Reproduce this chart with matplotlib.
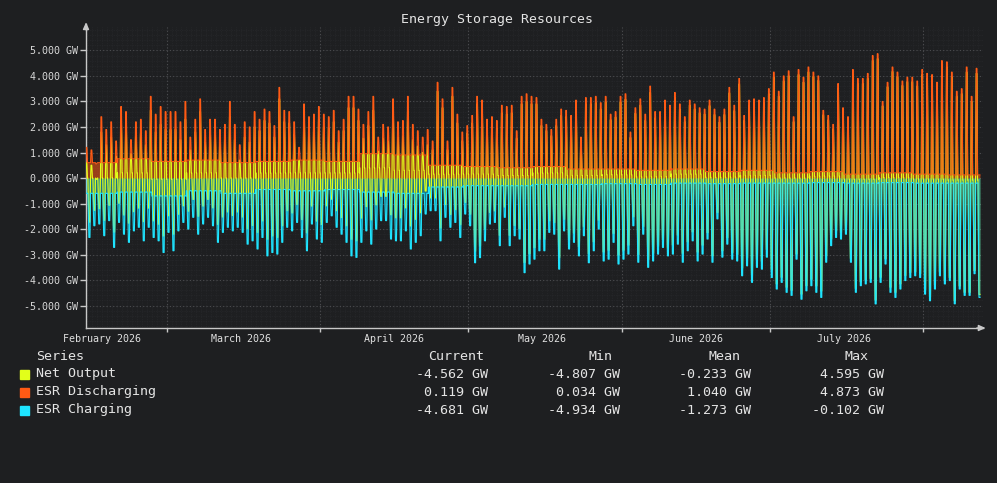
import numpy as np
import matplotlib
matplotlib.use('Agg')
import matplotlib.pyplot as plt
from matplotlib.patches import Rectangle

# --- data ------------------------------------------------------------------
start = np.datetime64('2026-02-12')

# evening discharge peak of each day (GW), Feb 12 .. Aug 11
peak_discharge = [
    1.2, 1.1, 0.55, 2.4, 1.9, 2.2, 1.45, 2.8, 2.6, 1.5, 2.2, 2.3, 1.85, 3.2, 2.5, 2.8, 2.6, 2.6, 2.6,
    2.2, 3.0, 1.6, 2.3, 3.1, 1.9, 2.3, 2.3, 1.9, 2.1, 3.0, 2.1, 1.3, 2.2, 2.0, 2.6, 2.3, 2.7,
    2.6, 2.05, 3.55, 2.65, 2.6, 2.2, 1.2, 2.9, 2.4, 2.5, 2.8, 2.5, 2.4, 2.65, 1.85, 2.3, 3.2, 3.2,
    2.7, 2.1, 2.6, 3.2, 1.6, 2.1, 2.0, 3.1, 2.2, 2.25, 3.2, 2.1, 1.85, 1.6, 1.9, 1.45, 3.75, 3.1,
    1.45, 3.55, 2.5, 1.8, 2.05, 2.45, 3.2, 3.05, 2.3, 2.4, 2.25, 2.85, 2.8, 2.85, 1.85, 3.2, 3.3,
    3.2, 3.15, 2.3, 2.1, 1.9, 2.3, 2.7, 2.65, 2.45, 3.05, 1.6, 3.15, 3.15, 3.2, 2.95, 3.2, 2.5, 2.6, 3.2,
    3.3, 1.8, 2.75, 3.1, 2.5, 3.6, 2.6, 2.6, 3.05, 2.85, 3.35, 2.9, 2.4, 3.05, 2.9, 2.75, 2.7, 3.05,
    2.7, 2.4, 2.7, 3.55, 2.85, 3.9, 2.45, 3.05, 3.1, 3.05, 3.15, 3.5, 4.15, 3.4, 4.0, 4.2, 2.4, 4.25, 3.95,
    4.35, 4.15, 4.0, 2.65, 2.45, 2.1, 3.7, 2.75, 2.4, 4.25, 3.9, 3.9, 4.1, 4.8, 4.873, 3.0, 3.75, 4.35,
    4.15, 3.8, 3.95, 3.95, 3.8, 4.25, 4.1, 4.05, 3.75, 4.6, 4.55, 4.15, 3.4, 3.5, 4.35, 3.2, 4.3,
]

# midday charging trough of each day (GW), Feb 13 .. Aug 12
trough_charging = [
    -2.33, -1.87, -1.8, -2.26, -1.67, -2.72, -1.74, -2.2, -2.52, -2.07, -1.93, -2.46, -1.93, -2.33,
    -2.46, -2.92, -2.13, -2.85, -2.07, -1.74, -2.0, -1.54, -2.2, -1.8, -1.54, -1.87, -2.52, -2.13,
    -1.93, -2.07, -1.93, -2.13, -2.59, -2.46, -2.78, -2.33,
    -3.05, -2.92, -2.98, -2.52, -1.93, -2.07, -1.74, -2.33, -2.85, -1.8, -2.39, -2.52, -1.74, -1.48,
    -1.93, -2.2, -2.52, -3.05, -3.11, -2.52, -2.07, -2.59, -2.0, -1.67, -1.67, -2.39, -2.46, -2.46,
    -2.07, -2.78, -2.52, -2.26, -1.41, -1.28, -1.28, -2.46, -1.54,
    -1.93, -1.74, -2.33, -1.41, -1.87, -3.32, -3.12, -2.46, -1.8, -1.74, -2.65, -1.54, -2.65, -2.26,
    -2.39, -3.71, -3.37, -3.18, -2.85, -2.85, -2.13, -2.2, -3.57, -2.07, -2.78, -2.52, -3.05, -2.26,
    -3.32, -2.85, -2.0, -3.25, -3.18, -2.52, -3.37, -3.18,
    -2.98, -1.87, -3.3, -2.2, -3.5, -3.25, -2.98, -2.72, -3.05, -2.98, -2.59, -3.3, -2.85, -2.46,
    -3.25, -2.98, -2.39, -3.3, -1.6, -3.1, -2.59, -3.18, -3.25, -3.83, -3.44, -4.09, -3.5, -3.57,
    -3.1, -3.9, -4.35, -4.09, -4.48, -4.6, -3.18, -4.75,
    -4.42, -4.22, -4.48, -4.68, -3.3, -2.65, -2.33, -2.39, -2.2, -3.3, -4.48, -4.22, -4.15, -4.09,
    -4.934, -4.09, -3.37, -4.48, -4.68, -4.35, -4.02, -3.9, -3.83, -3.9, -4.55, -4.81, -4.35, -3.83,
    -4.15, -4.02, -4.93, -4.35, -4.6, -4.6, -3.75, -4.681,
]

# resting levels per week starting Feb 12 (GW)
base_discharge = [0.6, 0.75, 0.65, 0.7, 0.6, 0.65, 0.7, 0.65, 0.95, 0.9, 0.5, 0.45, 0.4,
                  0.45, 0.35, 0.35, 0.3, 0.35, 0.25, 0.3, 0.2, 0.25, 0.15, 0.2, 0.15, 0.119]
base_charging = [-0.6, -0.55, -0.7, -0.5, -0.6, -0.45, -0.5, -0.45, -0.55, -0.6, -0.35, -0.3, -0.3,
                 -0.25, -0.25, -0.22, -0.25, -0.2, -0.22, -0.2, -0.2, -0.18, -0.2, -0.18, -0.2, -0.2]

month_ticks = ['2026-03-01', '2026-04-01', '2026-05-01', '2026-06-01', '2026-07-01', '2026-08-01']
month_labels = ['February 2026', 'March 2026', 'April 2026', 'May 2026', 'June 2026', 'July 2026']
label_days = ['2026-02-16', '2026-03-16', '2026-04-16', '2026-05-16', '2026-06-16', '2026-07-16']

series_names = ['Net Output', 'ESR Discharging', 'ESR Charging']
stat_current = [-4.562, 0.119, -4.681]
stat_min = [-4.807, 0.034, -4.934]
stat_mean = [-0.233, 1.040, -1.273]
stat_max = [4.595, 4.873, -0.102]

# --- style -------------------------------------------------------------------
BG = '#1e1f21'
YEL = '#e2ff1a'
ORG = '#ff5a14'
CYA = '#1ee4ff'
GRID = '#4c4d50'
AXIS = '#c8c8c8'
TXT = '#e4e4e4'
MONO = 'DejaVu Sans Mono'

W, H = 997, 483

# --- build the sample series --------------------------------------------------
n_days = len(trough_charging) + 1
t, dis, chg = [], [], []
for d in range(n_days):
    db = base_discharge[d // 7]
    cb = base_charging[d // 7]
    pts = [(0.0, db, cb)]
    if d >= 1:
        tr = trough_charging[d - 1]
        pts += [(0.08, db, cb), (0.28, db, tr), (0.48, db, tr)]
        if d < len(peak_discharge):
            pts += [(0.6, db, cb)]
    if d < len(peak_discharge):
        pk = peak_discharge[d]
        pts += [(0.62, db, cb), (0.72, pk, cb), (0.86, pk, cb), (0.98, db, cb)]
    for off, a, b in pts:
        t.append(d + off)
        dis.append(a)
        chg.append(b)

t = np.array(t)
dis = np.array(dis)
chg = np.array(chg)
net = dis + chg


def day_of(s):
    return (np.datetime64(s) - start).astype(int)


# --- figure -------------------------------------------------------------------
fig = plt.figure(figsize=(W / 100, H / 100), dpi=100, facecolor=BG)
ax = fig.add_axes([86 / W, 1 - 328 / H, (983 - 86) / W, (328 - 27) / H])
ax.set_facecolor(BG)

x0 = 0.7
x1 = x0 + (983 - 86) / 4.945
ax.set_xlim(x0, x1)
ax.set_ylim(-5.88, 5.92)

# faint minor grid
for yy in np.arange(-5.8, 5.9, 0.2):
    ax.axhline(yy, color='#2a2b2e', lw=0.5, ls=(0, (1, 1.5)), zorder=0)
for xx in np.arange(1, 183, 1):
    ax.axvline(xx, color='#2a2b2e', lw=0.5, ls=(0, (1, 1.5)), zorder=0)

# major grid
for yy in range(-5, 6):
    ax.axhline(yy, color=GRID, lw=0.8, ls=(0, (1, 2)), zorder=1)
for m in month_ticks:
    ax.axvline(day_of(m), color=GRID, lw=0.8, ls=(0, (1, 2)), zorder=1)

# fills, then lines
ax.fill_between(t, 0, net, color=YEL, alpha=0.30, lw=0, zorder=2)
ax.fill_between(t, 0, dis, color=ORG, alpha=0.55, lw=0, zorder=3)
ax.fill_between(t, 0, chg, color=CYA, alpha=0.45, lw=0, zorder=3)
ax.plot(t, net, color=YEL, lw=0.8, zorder=4)
ax.plot(t, dis, color=ORG, lw=0.8, zorder=5)
ax.plot(t, chg, color=CYA, lw=0.8, zorder=5)

# axes
for s in ['top', 'right']:
    ax.spines[s].set_visible(False)
for s in ['left', 'bottom']:
    ax.spines[s].set_color(AXIS)
    ax.spines[s].set_linewidth(1.0)
ax.annotate('', xy=(0, 1.025), xytext=(0, 0.99), xycoords='axes fraction',
            arrowprops=dict(arrowstyle='-|>,head_width=0.18,head_length=0.4', color=AXIS, lw=1.0))
ax.plot([0, 0], [0.99, 1.01], transform=ax.transAxes, color=AXIS, lw=1.0, clip_on=False)
ax.annotate('', xy=(1.006, 0), xytext=(0.99, 0), xycoords='axes fraction',
            arrowprops=dict(arrowstyle='-|>,head_width=0.18,head_length=0.4', color=AXIS, lw=1.0))

ax.set_yticks(range(-5, 6))
ax.set_yticklabels([f'{v:.3f} GW' for v in range(-5, 6)])
ax.tick_params(axis='y', colors=AXIS, length=4, width=1, pad=2, labelsize=7.2, labelcolor='#d8d8d8')
for lab in ax.get_yticklabels():
    lab.set_fontfamily(MONO)

ax.set_xticks([day_of(m) for m in month_ticks])
ax.set_xticklabels([])
ax.tick_params(axis='x', which='major', colors=AXIS, length=3, width=1)
ax.set_xticks([day_of(s) for s in label_days], minor=True)
ax.set_xticklabels(month_labels, minor=True)
ax.tick_params(axis='x', which='minor', length=0, pad=4, labelsize=7.2, labelcolor='#e0e0e0')
for lab in ax.get_xticklabels(minor=True):
    lab.set_fontfamily(MONO)

fig.text(497 / W, 1 - 19 / H, 'Energy Storage Resources', color=TXT, fontsize=9.5,
         family=MONO, ha='center', va='center')

# legend table
fs = 9.6
fig.text(36 / W, 1 - 356 / H, 'Series', color=TXT, fontsize=fs, family=MONO, va='center')
headers = [('Current', 428), ('Min', 588), ('Mean', 708), ('Max', 844)]
for name, x in headers:
    fig.text(x / W, 1 - 356 / H, name, color=TXT, fontsize=fs, family=MONO, va='center')

colors = [YEL, ORG, CYA]
cols = [(stat_current, 488), (stat_min, 620), (stat_mean, 751), (stat_max, 884)]
for i, name in enumerate(series_names):
    yc = 374 + 18 * i
    fig.patches.append(Rectangle((20 / W, 1 - (yc + 4.5) / H), 9 / W, 9 / H,
                                 transform=fig.transFigure, color=colors[i]))
    fig.text(36 / W, 1 - yc / H, name, color=TXT, fontsize=fs, family=MONO, va='center')
    for vals, xr in cols:
        fig.text(xr / W, 1 - yc / H, f'{vals[i]:.3f} GW', color=TXT, fontsize=fs,
                 family=MONO, va='center', ha='right')

fig.savefig('out.png', dpi=100, facecolor=BG)
